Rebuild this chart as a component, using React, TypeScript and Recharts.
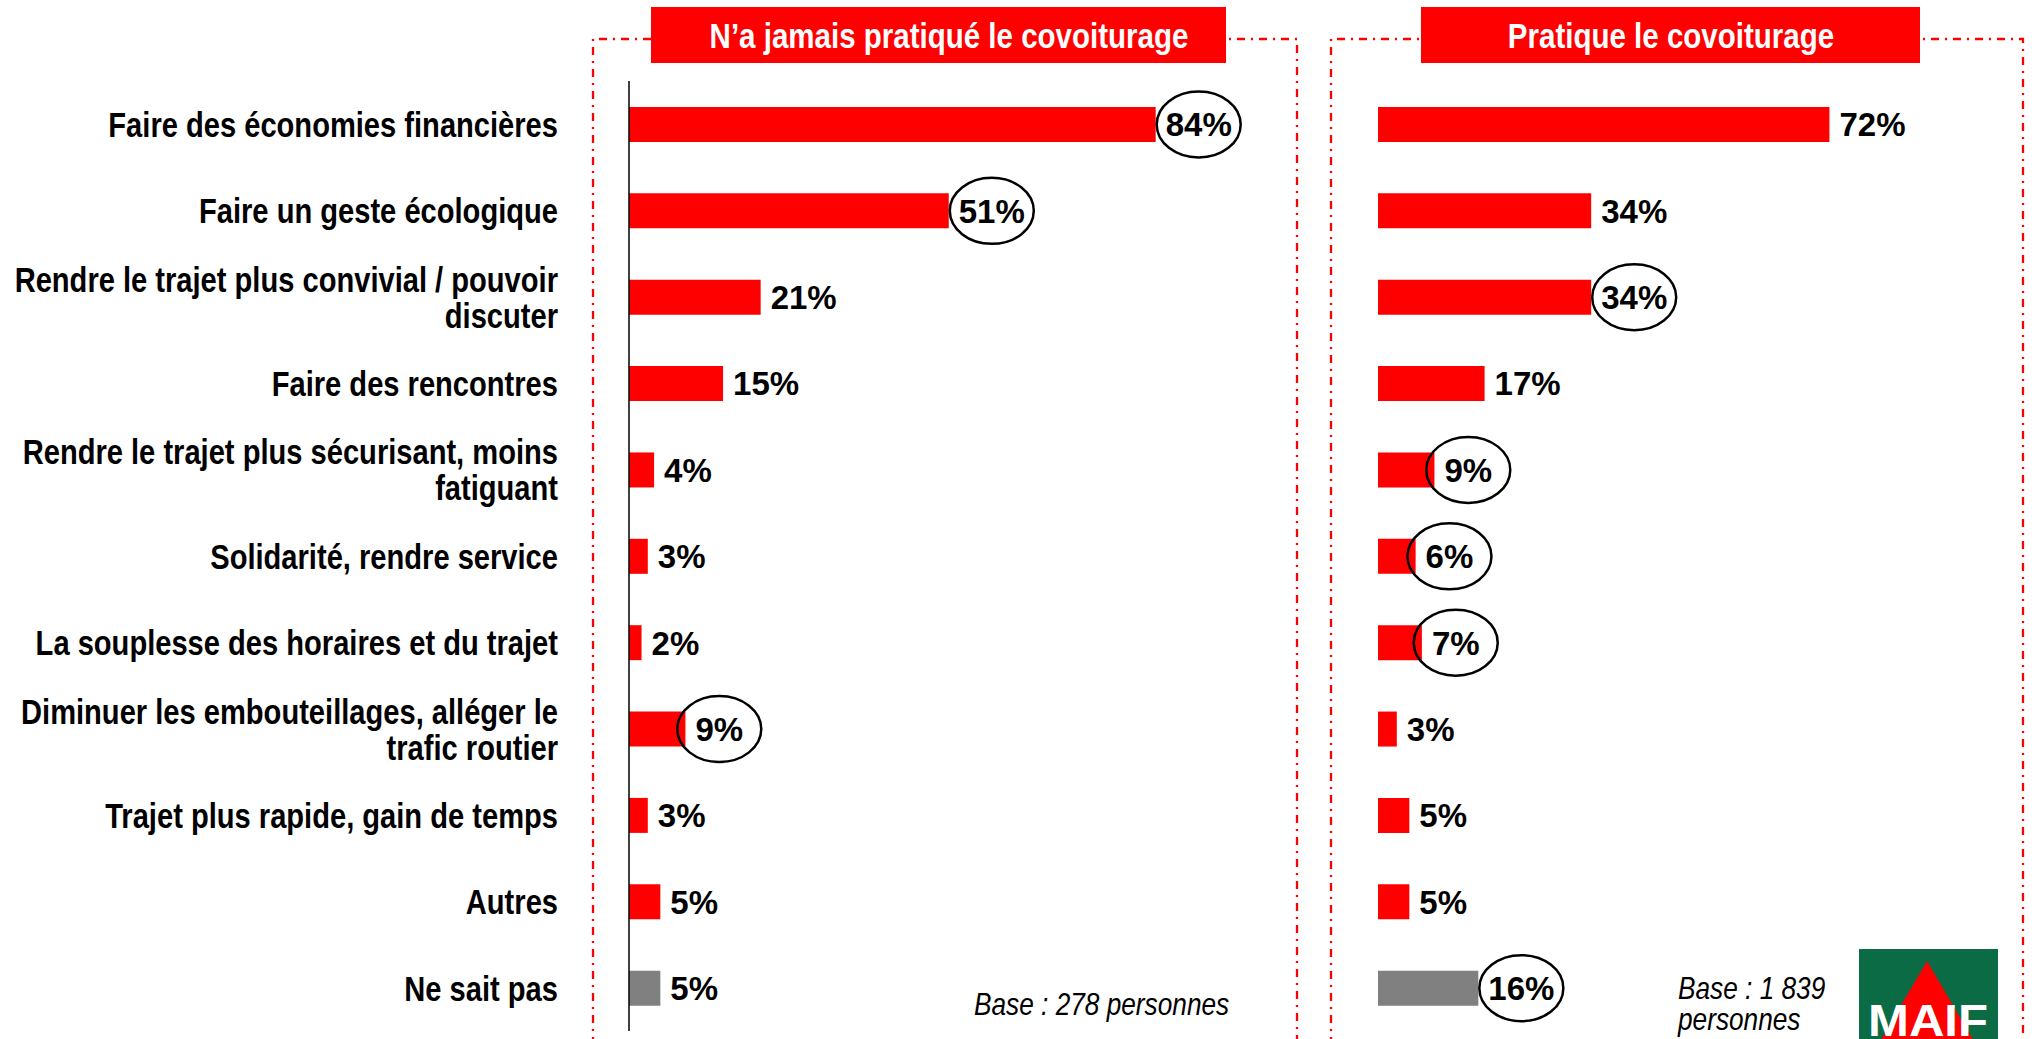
import React from "react";
import { BarChart, Bar, XAxis, YAxis, Cell, LabelList } from "recharts";

const categories = [
  "Faire des économies financières",
  "Faire un geste écologique",
  "Rendre le trajet plus convivial / pouvoir\ndiscuter",
  "Faire des rencontres",
  "Rendre le trajet plus sécurisant, moins\nfatiguant",
  "Solidarité, rendre service",
  "La souplesse des horaires et du trajet",
  "Diminuer les embouteillages, alléger le\ntrafic routier",
  "Trajet plus rapide, gain de temps",
  "Autres",
  "Ne sait pas",
];

const neverValues = [84, 51, 21, 15, 4, 3, 2, 9, 3, 5, 5];
const practiceValues = [72, 34, 34, 17, 9, 6, 7, 3, 5, 5, 16];

const neverCircled = [true, true, false, false, false, false, false, true, false, false, false];
const practiceCircled = [false, false, true, false, true, true, true, false, false, false, true];

const panelTitles = ["N’a jamais pratiqué le covoiturage", "Pratique le covoiturage"];
const baseNotes = ["Base : 278 personnes", "Base : 1 839\npersonnes"];

const RED = "#FF0000";
const GREY = "#808080";
const ARIAL = "'Liberation Sans', Arial, sans-serif";
const SQUEEZE = 0.82; // no narrow font installed, so squeeze Liberation Sans

const neverData = categories.map((name, i) => ({ name, value: neverValues[i] }));
const practiceData = categories.map((name, i) => ({ name, value: practiceValues[i] }));

// multi-line text drawn horizontally condensed, like Arial Narrow
const NarrowText = ({ x, y, lines, size, lh, anchor = "start", fill = "#000", weight = "bold", italic = false }: any) => {
  const y0 = -((lines.length - 1) * lh) / 2;
  return (
    <text
      transform={`translate(${x},${y}) scale(${SQUEEZE},1)`}
      x={0}
      y={y0}
      textAnchor={anchor}
      fontFamily={ARIAL}
      fontWeight={weight}
      fontStyle={italic ? "italic" : "normal"}
      fontSize={size}
      fill={fill}
    >
      {lines.map((l: string, i: number) => (
        <tspan key={i} x={0} dy={i === 0 ? "0.36em" : lh}>
          {l}
        </tspan>
      ))}
    </text>
  );
};

const CategoryTick = (props: any) => {
  const { x, y, payload } = props;
  return <NarrowText x={x} y={y} lines={String(payload.value).split("\n")} size={35.5} lh={36} anchor="end" />;
};

const makeLabel = (circled: boolean[]) => (props: any) => {
  const { x, y, width, height, value, index } = props;
  const text = `${value}%`;
  const fs = 33;
  const tx = Number(x) + Number(width) + 10;
  const cy = Number(y) + Number(height) / 2;
  const w = ((text.length - 1) * 0.556 + 0.889) * fs;
  return (
    <g>
      {circled[index] && (
        <ellipse cx={tx + w / 2} cy={cy} rx={42} ry={33} fill="none" stroke="#000" strokeWidth={2.5} />
      )}
      <text x={tx} y={cy} dy="0.36em" fontFamily={ARIAL} fontWeight="bold" fontSize={fs} fill="#000">
        {text}
      </text>
    </g>
  );
};

const margin = { top: 81, bottom: 8 };

const App: React.FC = () => {
  return (
    <div style={{ position: "absolute", left: 0, top: 0, width: 2034, height: 1039, background: "#fff" }}>
      <div style={{ position: "absolute", left: 0, top: 0 }}>
        <BarChart
          width={1300}
          height={1039}
          data={neverData}
          layout="vertical"
          margin={{ ...margin, left: 0, right: 44 }}
        >
          <XAxis type="number" domain={[0, 100]} hide />
          <YAxis
            type="category"
            dataKey="name"
            width={629}
            tickLine={false}
            tickSize={0}
            tickMargin={71}
            axisLine={{ stroke: "#000", strokeWidth: 1.5 }}
            tick={<CategoryTick />}
            interval={0}
          />
          <Bar dataKey="value" barSize={35} isAnimationActive={false}>
            {neverData.map((d, i) => (
              <Cell key={i} fill={i === neverData.length - 1 ? GREY : RED} />
            ))}
            <LabelList dataKey="value" content={makeLabel(neverCircled)} />
          </Bar>
        </BarChart>
      </div>
      <div style={{ position: "absolute", left: 1300, top: 0 }}>
        <BarChart
          width={734}
          height={1039}
          data={practiceData}
          layout="vertical"
          margin={{ ...margin, left: 78, right: 29 }}
        >
          <XAxis type="number" domain={[0, 100]} hide />
          <YAxis
            type="category"
            dataKey="name"
            width={0}
            tick={false}
            tickLine={false}
            axisLine={{ stroke: "#333", strokeWidth: 1.5 }}
          />
          <Bar dataKey="value" barSize={35} isAnimationActive={false}>
            {practiceData.map((d, i) => (
              <Cell key={i} fill={i === practiceData.length - 1 ? GREY : RED} />
            ))}
            <LabelList dataKey="value" content={makeLabel(practiceCircled)} />
          </Bar>
        </BarChart>
      </div>
      <svg
        width={2034}
        height={1039}
        style={{ position: "absolute", left: 0, top: 0, pointerEvents: "none" }}
      >
        <path d="M593,1045 V39 H1297 V1045" fill="none" stroke={RED} strokeWidth={2.3} strokeDasharray="8 6 2 6" />
        <path d="M1331,1045 V39 H2023 V1045" fill="none" stroke={RED} strokeWidth={2.3} strokeDasharray="8 6 2 6" />
        <rect x={651} y={7} width={575} height={56} fill={RED} />
        <rect x={1421} y={7} width={499} height={56} fill={RED} />
        <NarrowText x={949} y={35} lines={[panelTitles[0]]} size={36} lh={36} anchor="middle" fill="#fff" />
        <NarrowText x={1671} y={35} lines={[panelTitles[1]]} size={36} lh={36} anchor="middle" fill="#fff" />
        <NarrowText x={974} y={1003} lines={[baseNotes[0]]} size={32} lh={31} weight="normal" italic />
        <NarrowText x={1678} y={1003} lines={baseNotes[1].split("\n")} size={32} lh={31} weight="normal" italic />
        <rect x={1859} y={949} width={139} height={100} fill="#0a6b45" />
        <polygon points="1927,961 1868,1062 1986,1062" fill={RED} />
        <text
          x={1928}
          y={1036}
          textAnchor="middle"
          fontFamily={ARIAL}
          fontWeight="bold"
          fontSize={44}
          textLength={120}
          lengthAdjust="spacingAndGlyphs"
          fill="#fff"
        >
          MAIF
        </text>
      </svg>
    </div>
  );
};

export default App;
